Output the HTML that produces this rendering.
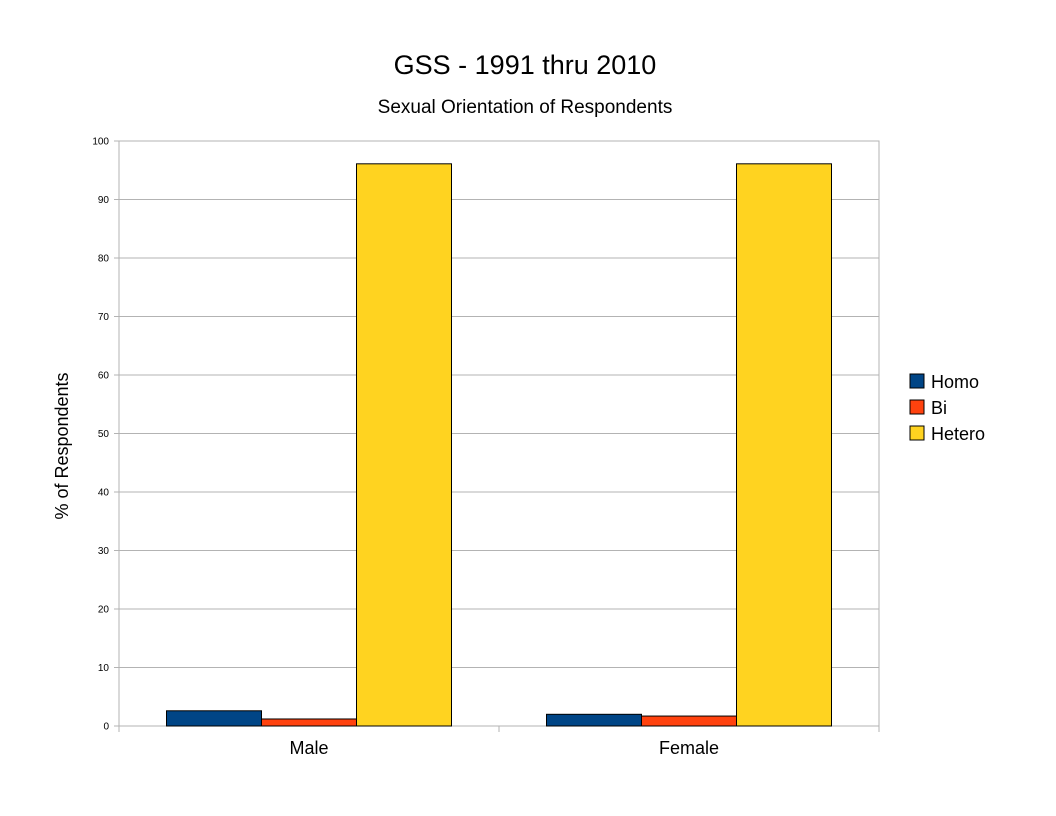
<!DOCTYPE html>
<html><head><meta charset="utf-8"><style>
body{margin:0;background:#fff;}
svg{display:block;font-family:"Liberation Sans",sans-serif;}
</style></head><body>
<svg id="chart" width="1056" height="816">
<text x="525" y="74" text-anchor="middle" font-size="27">GSS - 1991 thru 2010</text>
<text x="525" y="113" text-anchor="middle" font-size="19">Sexual Orientation of Respondents</text>
<text transform="translate(68,446) rotate(-90)" text-anchor="middle" font-size="18">% of Respondents</text>
<g id="grid"></g><g id="bars"></g><g id="axes"></g>
<g font-size="18">
<rect x="910" y="374" width="14" height="14" fill="#004586" stroke="#000"/>
<text x="931" y="388">Homo</text>
<rect x="910" y="400" width="14" height="14" fill="#ff420e" stroke="#000"/>
<text x="931" y="414">Bi</text>
<rect x="910" y="426" width="14" height="14" fill="#ffd320" stroke="#000"/>
<text x="931" y="440">Hetero</text>
</g>
</svg>
<script>
const categories=["Male","Female"];
const homo=[2.6,2.0];
const bi=[1.2,1.7];
const hetero=[96.1,96.1];
const yTicks=[0,10,20,30,40,50,60,70,80,90,100];
const NS="http://www.w3.org/2000/svg";
const X0=119,X1=879,Y0=726,Y1=141;
const y=v=>Y0-(v/100)*(Y0-Y1);
const groupW=(X1-X0)/categories.length;
const barW=95;
function mk(t,a,p){const e=document.createElementNS(NS,t);for(const k in a)e.setAttribute(k,a[k]);p.appendChild(e);return e;}
const grid=document.getElementById('grid'),bars=document.getElementById('bars'),axes=document.getElementById('axes');
mk('rect',{x:X0,y:Y1,width:X1-X0,height:Y0-Y1,fill:'none',stroke:'#b3b3b3'},grid);
yTicks.forEach(t=>{
 const l=mk('line',{x1:X0-5,x2:X1,y1:y(t),y2:y(t),stroke:'#b3b3b3'},grid);
 
 
 const tx=mk('text',{x:X0-10,y:y(t)+3.5,'text-anchor':'end','font-size':'10'},axes);
 tx.textContent=t;
 
 
});
for(let i=0;i<=categories.length;i++){mk('line',{x1:X0+i*groupW,x2:X0+i*groupW,y1:Y0,y2:Y0+6,stroke:'#b3b3b3'},axes);}
const series=[[homo,'#004586','homo'],[bi,'#ff420e','bi'],[hetero,'#ffd320','hetero']];
categories.forEach((c,i)=>{
 const gx=X0+i*groupW+(groupW-3*barW)/2;
 series.forEach((s,j)=>{
  const r=mk('rect',{x:gx+j*barW,y:y(s[0][i]),width:barW,height:Y0-y(s[0][i]),fill:s[1],stroke:'#000','stroke-width':1},bars);
  
  
 });
 const t=mk('text',{x:X0+(i+0.5)*groupW,y:Y0+28,'text-anchor':'middle','font-size':'18'},axes);
 t.textContent=c;
 
 
});
</script>
</body></html>
